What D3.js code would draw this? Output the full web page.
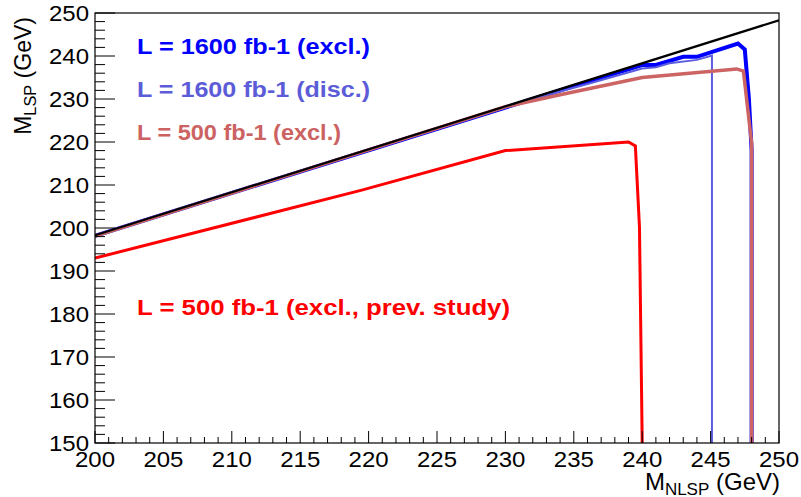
<!DOCTYPE html>
<html><head><meta charset="utf-8">
<script src="https://cdn.jsdelivr.net/npm/d3@7"></script>
<style>body{margin:0;background:#fff}svg{display:block}text{font-family:"Liberation Sans",Arial,sans-serif}</style>
</head><body>
<svg id="c" width="801" height="497"></svg>
<script>
// ---- data ----
const xTicks = [200,205,210,215,220,225,230,235,240,245,250];
const yTicks = [150,160,170,180,190,200,210,220,230,240,250];
const diagX = [200,250];
const diagY = [198.3,248.3];
const excl1600X = [200,232,236,240,241,243,244,247,247.5,247.8,248,248];
const excl1600Y = [198.2,230,234,237.9,237.9,239.8,239.8,242.9,241.5,230,218,150];
const disc1600X = [200,232,236,240,241,242,244,245.1,245.1];
const disc1600Y = [198.2,230,233.5,237.1,237.4,238.3,239.1,240.1,150];
const excl500X = [200,230,234,240,246.9,247.4,248,248];
const excl500Y = [198.1,228.2,231,235,237,236.5,219.7,150];
const prevX = [200,219.5,230,239,239.5,239.8,240];
const prevY = [193,208.8,218,220,219.1,200.3,150];
const legendLabels = ["L = 1600 fb-1 (excl.)","L = 1600 fb-1 (disc.)","L = 500 fb-1 (excl.)"];
const prevLabel = "L = 500 fb-1 (excl., prev. study)";

const svg = d3.select("#c");
const L=95,R=779,T=13,B=443;
const x = d3.scaleLinear().domain([200,250]).range([L,R]);
const y = d3.scaleLinear().domain([150,250]).range([B,T]);
const SY = 0.92;

svg.append("defs").append("clipPath").attr("id","pc").append("rect")
  .attr("x",L).attr("y",T).attr("width",R-L).attr("height",B-T);

const line = d3.line().x(d=>x(d[0])).y(d=>y(d[1]));
function series(xs,ys,color,w){
  svg.append("path").datum(xs.map((v,i)=>[v,ys[i]]))
    .attr("d",line).attr("fill","none").attr("stroke",color)
    .attr("stroke-width",w).attr("stroke-linejoin","miter").attr("clip-path","url(#pc)");
}
series(excl1600X,excl1600Y,"#0000ff",4);
series(disc1600X,disc1600Y,"#5c5ce0",2);
series(excl500X,excl500Y,"#cc6464",3.5);
series(prevX,prevY,"#ff0000",3);
series(diagX,diagY,"#000000",2.2);

// frame
svg.append("rect").attr("x",L).attr("y",T).attr("width",R-L).attr("height",B-T)
  .attr("fill","none").attr("stroke","#000").attr("stroke-width",1.2);

// ticks
const gx = svg.append("g");
d3.range(200,251,1).forEach(v=>{
  const major = v%5===0;
  gx.append("line").attr("x1",x(v)).attr("x2",x(v)).attr("y1",B).attr("y2",B-(major?12:6))
    .attr("stroke","#000").attr("stroke-width",1);
});
const gy = svg.append("g");
d3.range(150,251,2).forEach(v=>{
  const major = v%10===0;
  gy.append("line").attr("y1",y(v)).attr("y2",y(v)).attr("x1",L).attr("x2",L+(major?20:10))
    .attr("stroke","#000").attr("stroke-width",1);
});

function txt(px,py,s,opts){
  opts=opts||{};
  const t = svg.append("text")
    .attr("transform",`translate(${px},${py}) scale(1,${opts.sy||SY})${opts.rot?` rotate(${opts.rot})`:""}`)
    .attr("font-size",opts.size||24).attr("fill",opts.fill||"#000")
    .attr("font-weight",opts.bold?"bold":"normal")
    .attr("text-anchor",opts.anchor||"start");
  if(opts.len) t.attr("textLength",opts.len).attr("lengthAdjust","spacingAndGlyphs");
  t.text(s);
  return t;
}
xTicks.forEach(v=>txt(x(v),467,String(v),{anchor:"middle"}));
yTicks.forEach(v=>txt(89,y(v)+8,String(v),{anchor:"end"}));

// axis titles
const xt = txt(780,490,"",{anchor:"end",sy:1});
xt.append("tspan").text("M");
xt.append("tspan").attr("font-size",17).attr("dy",5).text("NLSP");
xt.append("tspan").attr("dy",-5).text(" (GeV)");
const yt = txt(31,17,"",{anchor:"end",rot:-90,sy:0.96});
yt.append("tspan").text("M");
yt.append("tspan").attr("font-size",17).attr("dy",5).text("LSP");
yt.append("tspan").attr("dy",-5).text(" (GeV)");

// legend
const lc = ["#0000ff","#5c5cd8","#cc6262"];
legendLabels.forEach((s,i)=>txt(137,54+i*43,s,{bold:true,size:25,fill:lc[i],sy:0.9,len:233-(i==2?29:0)}));
txt(137,315,prevLabel,{bold:true,size:25,fill:"#ff0000",sy:0.9,len:373});
</script>
</body></html>
